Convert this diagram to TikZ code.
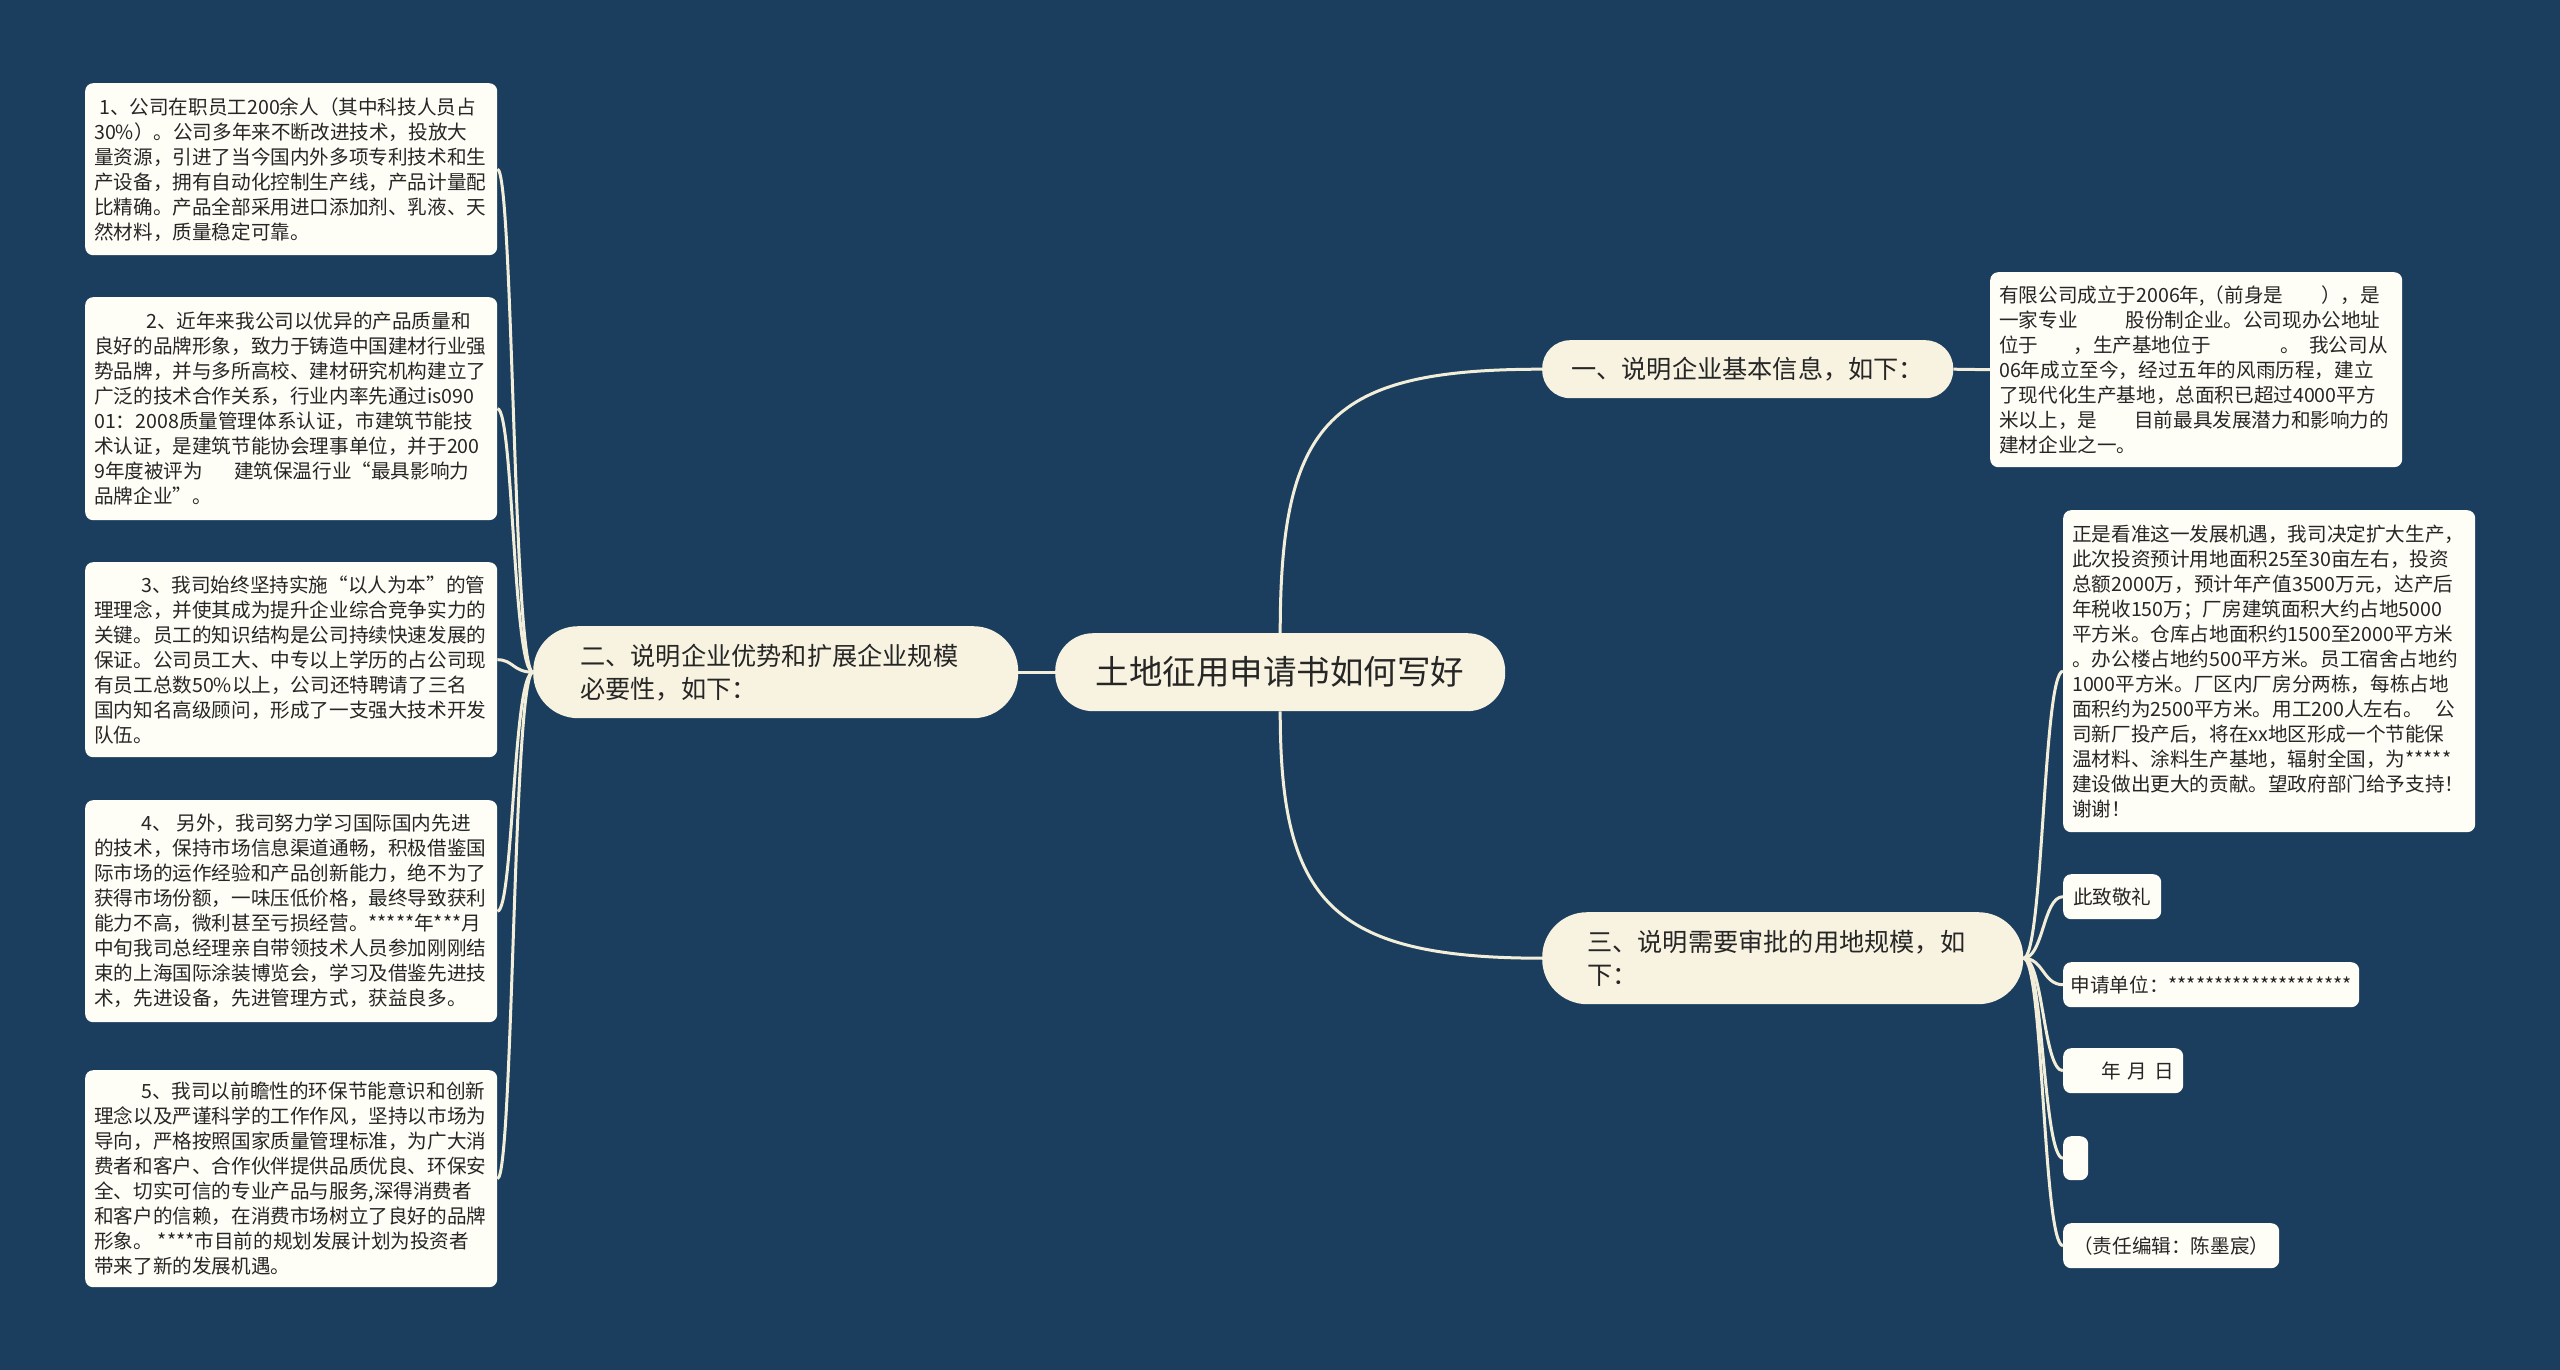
\documentclass[tikz,border=0pt]{standalone}
\usepackage{fontspec}
\setmainfont{Noto Sans CJK SC}
\definecolor{bgc}{HTML}{1B3E5E}
\definecolor{leafc}{HTML}{FFFEF6}
\definecolor{branchc}{HTML}{F8F3E0}
\definecolor{linec}{HTML}{F2EEDA}
\definecolor{txtc}{HTML}{262626}
\newcommand\leaffont{\fontsize{19.6}{25}\selectfont}
\newcommand\branchfont{\fontsize{25.2}{33}\selectfont}
\newcommand\rootfont{\fontsize{33.5}{38}\selectfont}
\tikzset{
  leafbox/.style={fill=leafc, rounded corners=8pt, anchor=north west, inner xsep=9pt, inner ysep=0pt,
    text width=394pt, align=left, font=\leaffont, text=txtc},
  smallbox/.style={fill=leafc, rounded corners=8pt, anchor=north west, inner sep=0pt,
    minimum height=45pt, font=\leaffont, text=txtc},
  branchbox/.style={fill=branchc, anchor=north west, inner ysep=0pt, font=\branchfont, text=txtc},
  conn/.style={draw=linec, line width=3pt}
}
\begin{document}
\begin{tikzpicture}[x=1pt,y=-1pt]
\fill[bgc] (0,0) rectangle (2560,1370);
\useasboundingbox (0,0) rectangle (2560,1370);

% root
\node[branchbox, rounded corners=38pt, minimum width=450pt, minimum height=78pt, inner xsep=0pt, font=\rootfont, align=center] (root) at (1055,633) {土地征用申请书如何写好};

% branches
\node[branchbox, rounded corners=28pt, minimum width=411pt, minimum height=58pt, inner xsep=0pt, align=center] (b1) at (1542,340) {一、说明企业基本信息，如下：};
\node[branchbox, rounded corners=45pt, minimum height=92pt, inner xsep=47pt, text width=391pt, align=left] (b2) at (533,626) {二、说明企业优势和扩展企业规模\\必要性，如下：};
\node[branchbox, rounded corners=45pt, minimum height=92pt, inner xsep=45pt, text width=391pt, align=left] (b3) at (1542,912) {三、说明需要审批的用地规模，如\\下：};

% left leaves
\node[leafbox, minimum height=172pt] (l1) at (85,83) {\hspace*{5pt}1、公司在职员工200余人（其中科技人员占\\
30\%）。公司多年来不断改进技术，投放大\\
量资源，引进了当今国内外多项专利技术和生\\
产设备，拥有自动化控制生产线，产品计量配\\
比精确。产品全部采用进口添加剂、乳液、天\\
然材料，质量稳定可靠。};

\node[leafbox, minimum height=223pt] (l2) at (85,297) {\hspace*{52pt}2、近年来我公司以优异的产品质量和\\
良好的品牌形象，致力于铸造中国建材行业强\\
势品牌，并与多所高校、建材研究机构建立了\\
广泛的技术合作关系，行业内率先通过is090\\
01：2008质量管理体系认证，市建筑节能技\\
术认证，是建筑节能协会理事单位，并于200\\
9年度被评为\hspace{31pt}建筑保温行业“最具影响力\\
品牌企业”。};

\node[leafbox, minimum height=195pt] (l3) at (85,562) {\hspace*{47pt}3、我司始终坚持实施“以人为本”的管\\
理理念，并使其成为提升企业综合竞争实力的\\
关键。员工的知识结构是公司持续快速发展的\\
保证。公司员工大、中专以上学历的占公司现\\
有员工总数50\%以上，公司还特聘请了三名\\
国内知名高级顾问，形成了一支强大技术开发\\
队伍。};

\node[leafbox, minimum height=222pt] (l4) at (85,800) {\hspace*{47pt}4、\hspace{5pt}另外，我司努力学习国际国内先进\\
的技术，保持市场信息渠道通畅，积极借鉴国\\
际市场的运作经验和产品创新能力，绝不为了\\
获得市场份额，一味压低价格，最终导致获利\\
能力不高，微利甚至亏损经营。*****年***月\\
中旬我司总经理亲自带领技术人员参加刚刚结\\
束的上海国际涂装博览会，学习及借鉴先进技\\
术，先进设备，先进管理方式，获益良多。};

\node[leafbox, minimum height=217pt] (l5) at (85,1070) {\hspace*{47pt}5、我司以前瞻性的环保节能意识和创新\\
理念以及严谨科学的工作作风，坚持以市场为\\
导向，严格按照国家质量管理标准，为广大消\\
费者和客户、合作伙伴提供品质优良、环保安\\
全、切实可信的专业产品与服务,深得消费者\\
和客户的信赖，在消费市场树立了良好的品牌\\
形象。\hspace{5pt}****市目前的规划发展计划为投资者\\
带来了新的发展机遇。};

% right leaves
\node[leafbox, minimum height=195pt] (r1) at (1990,272) {有限公司成立于2006年,（前身是\hspace{38pt}），是\\
一家专业\hspace{48pt}股份制企业。公司现办公地址\\
位于\hspace{35pt}，生产基地位于\hspace{70pt}。\hspace{9pt}我公司从\\
06年成立至今，经过五年的风雨历程，建立\\
了现代化生产基地，总面积已超过4000平方\\
米以上，是\hspace{37pt}目前最具发展潜力和影响力的\\
建材企业之一。};

\node[leafbox, minimum height=322pt] (r2) at (2063,510) {正是看准这一发展机遇，我司决定扩大生产，\\
此次投资预计用地面积25至30亩左右，投资\\
总额2000万，预计年产值3500万元，达产后\\
年税收150万；厂房建筑面积大约占地5000\\
平方米。仓库占地面积约1500至2000平方米\\
。办公楼占地约500平方米。员工宿舍占地约\\
1000平方米。厂区内厂房分两栋，每栋占地\\
面积约为2500平方米。用工200人左右。\hspace{13pt}公\\
司新厂投产后，将在xx地区形成一个节能保\\
温材料、涂料生产基地，辐射全国，为*****\\
建设做出更大的贡献。望政府部门给予支持！\\
谢谢！};

\node[smallbox, minimum width=98pt] (r3) at (2063,874) {此致敬礼};
\node[smallbox, minimum width=296pt] (r4) at (2063,962) {申请单位：********************};
\node[smallbox, minimum width=120pt] (r5) at (2063,1048) {\hspace*{29pt}年\hspace{7pt}月\hspace{7pt}日};
\node[smallbox, minimum width=25pt, minimum height=44pt] (r6) at (2063,1136) {};
\node[smallbox, minimum width=216pt] (r7) at (2063,1223) {（责任编辑：陈墨宸）};

% connectors
\draw[conn] (root.west) -- (b2.east);
\draw[conn] (root.north) .. controls +(0,-213) and +(-212,0) .. (b1.west);
\draw[conn] (root.south) .. controls +(0,189) and +(-212,0) .. (b3.west);
\draw[conn] (b1.east) -- (r1.west);
\foreach \n in {l1,l2,l3,l4,l5}{
  \draw[conn] (b2.west) .. controls +(-20,0) and +(16,0) .. (\n.east);
}
\foreach \n in {r2,r3,r4,r5,r6,r7}{
  \draw[conn] (b3.east) .. controls +(20,0) and +(-20,0) .. (\n.west);
}
\end{tikzpicture}
\end{document}
